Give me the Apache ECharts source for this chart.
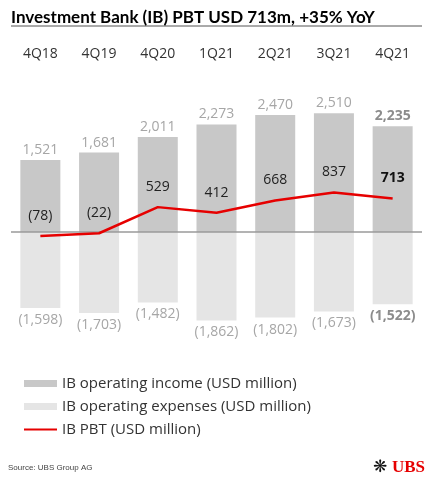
<!DOCTYPE html>
<html>
<head>
<meta charset="utf-8">
<script src="https://cdn.jsdelivr.net/npm/echarts@6/dist/echarts.min.js"></script>
<style>
  html, body { margin: 0; padding: 0; background: #fff; }
  #chart { width: 431px; height: 480px; }
</style>
</head>
<body>
<div id="chart"></div>
<script>
var quarters = ['4Q18', '4Q19', '4Q20', '1Q21', '2Q21', '3Q21', '4Q21'];
var income = [1521, 1681, 2011, 2273, 2470, 2510, 2235];
var expenses = [-1598, -1703, -1482, -1862, -1802, -1673, -1522];
var pbt = [-78, -22, 529, 412, 668, 837, 713];

var FONT = '"Open Sans", "Noto Sans", sans-serif';

function fmt(v) {
    var s = Math.abs(v).toLocaleString('en-US');
    return v < 0 ? '(' + s + ')' : s;
}

// last quarter is shown in bold
function items(arr, boldColor) {
    return arr.map(function (v, i) {
        if (i === arr.length - 1) {
            return { value: v, label: { fontWeight: 'bold', color: boldColor } };
        }
        return v;
    });
}

var myChart = echarts.init(document.getElementById('chart'));
myChart.setOption({
    animation: false,
    textStyle: { fontFamily: FONT },
    title: {
        text: 'Investment Bank (IB) PBT USD 713m, +35% YoY',
        left: 6,
        top: 4,
        textStyle: { fontSize: 17, fontWeight: 'bold', color: '#000', fontFamily: 'Lato, ' + FONT }
    },
    grid: { left: 11, right: 9, top: 90, height: 237 },
    xAxis: {
        type: 'category',
        data: quarters,
        position: 'top',
        axisLine: { show: false },
        axisTick: { show: false },
        axisLabel: { margin: 29, fontSize: 14, color: '#333', fontFamily: FONT }
    },
    yAxis: {
        type: 'value',
        min: -2000,
        max: 3000,
        show: false
    },
    legend: {
        orient: 'vertical',
        left: 18,
        top: 371,
        itemWidth: 33,
        itemHeight: 7,
        itemGap: 8,
        textStyle: { fontSize: 15, color: '#333', fontFamily: FONT },
        data: [
            { name: 'IB operating income (USD million)', icon: 'rect' },
            { name: 'IB operating expenses (USD million)', icon: 'rect' },
            { name: 'IB PBT (USD million)', itemStyle: { opacity: 0 } }
        ]
    },
    series: [
        {
            name: 'IB operating income (USD million)',
            type: 'bar',
            barWidth: 40,
            barGap: '-100%',
            data: items(income, '#8c8c8c'),
            itemStyle: { color: '#c8c8c8' },
            label: {
                show: true,
                position: 'top',
                distance: 3,
                fontSize: 14,
                color: '#a6a6a6',
                formatter: function (p) { return fmt(p.value); }
            },
            markLine: {
                silent: true,
                symbol: 'none',
                label: { show: false },
                lineStyle: { color: '#9a9a9a', width: 1.5, type: 'solid' },
                data: [{ yAxis: 0 }]
            }
        },
        {
            name: 'IB operating expenses (USD million)',
            type: 'bar',
            barWidth: 40,
            data: items(expenses, '#8c8c8c'),
            itemStyle: { color: '#e5e5e5' },
            label: {
                show: true,
                position: 'bottom',
                distance: 5,
                fontSize: 14,
                color: '#a6a6a6',
                formatter: function (p) { return fmt(p.value); }
            }
        },
        {
            name: 'IB PBT (USD million)',
            type: 'line',
            symbol: 'circle',
            symbolSize: 0.1,
            showSymbol: true,
            data: items(pbt, '#111'),
            lineStyle: { color: '#e60000', width: 2.5 },
            itemStyle: { color: '#e60000' },
            z: 5,
            label: {
                show: true,
                position: 'top',
                distance: 13,
                fontSize: 14,
                color: '#222',
                formatter: function (p) { return fmt(p.value); }
            }
        }
    ],
    graphic: [
        {
            type: 'line',
            shape: { x1: 11, y1: 26, x2: 422, y2: 26 },
            style: { stroke: '#555', lineWidth: 1 }
        },
        {
            type: 'text',
            left: 8,
            top: 464,
            style: { text: 'Source: UBS Group AG', fontSize: 8, fill: '#444', font: '8px ' + FONT }
        },
        {
            type: 'text',
            left: 373,
            top: 459,
            style: { text: '❋', font: '17px "DejaVu Sans"', fill: '#111' }
        },
        {
            type: 'text',
            left: 392,
            top: 459,
            style: { text: 'UBS', font: 'bold 17px "Liberation Serif"', fill: '#e60000' }
        }
    ]
});
</script>
</body>
</html>
